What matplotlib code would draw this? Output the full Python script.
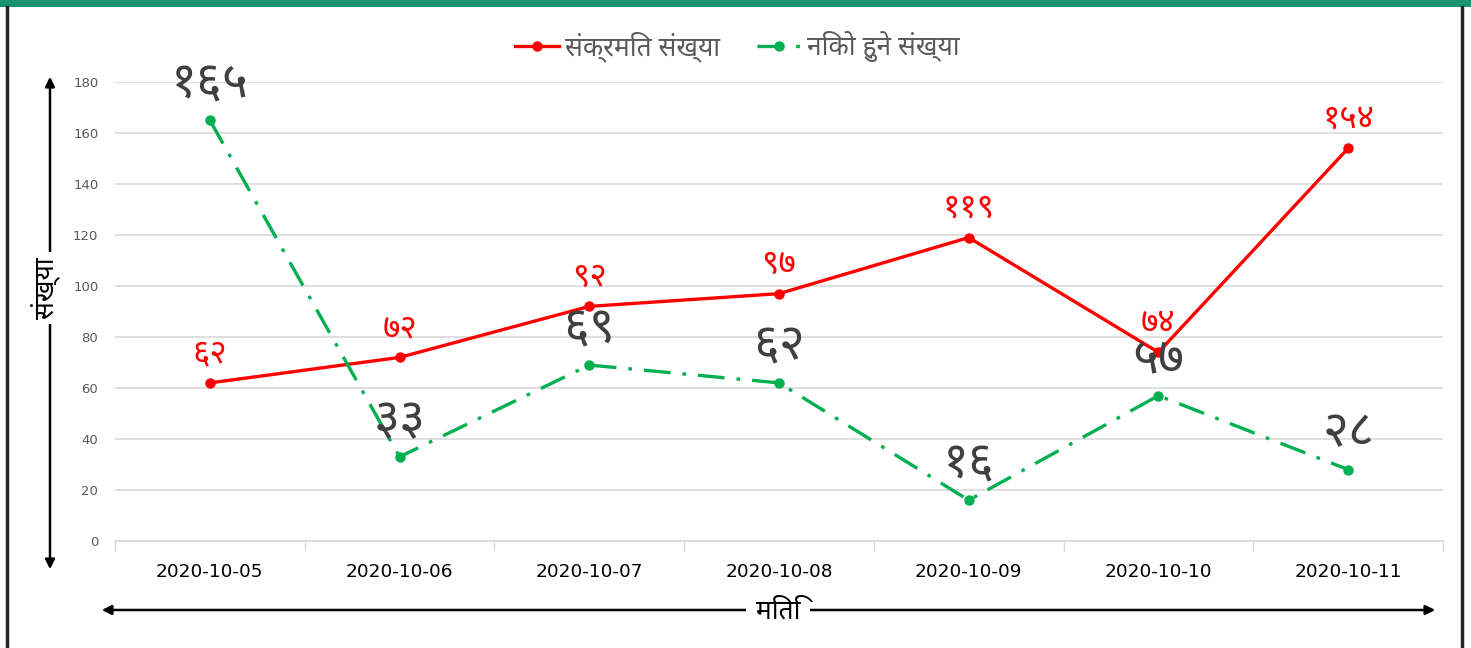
import matplotlib
matplotlib.use('Agg')
import matplotlib.pyplot as plt
from matplotlib import font_manager
from matplotlib.ft2font import FT2Font
from matplotlib.patches import FancyArrowPatch, Rectangle
from matplotlib.lines import Line2D

# Data
dates = ['2020-10-05', '2020-10-06', '2020-10-07', '2020-10-08',
         '2020-10-09', '2020-10-10', '2020-10-11']
infected = [62, 72, 92, 97, 119, 74, 154]
recovered = [165, 33, 69, 62, 16, 57, 28]
infected_labels = ['६२', '७२', '९२', '९७', '११९', '७४', '१५४']
recovered_labels = ['१६५', '३३', '६९', '६२', '१६', '५७', '२८']
yticks = [0, 20, 40, 60, 80, 100, 120, 140, 160, 180]

series_names = ['संक्रमित संख्या', 'निको हुने संख्या']
ylabel = 'संख्या'
xlabel = 'मिति'

RED = '#ff0000'
GREEN = '#00b050'
GRAY = '#404040'


# pick a font that has Devanagari glyphs, preferring Noto Sans Devanagari
def find_deva_font():
    names = {}
    for f in font_manager.fontManager.ttflist:
        if f.name in names:
            continue
        try:
            cmap = FT2Font(f.fname).get_charmap()
        except Exception:
            continue
        if 0x0915 in cmap and 0x0967 in cmap and 0x096B in cmap:
            names[f.name] = f.fname
    for pref in ['Noto Sans Devanagari', 'Mukta', 'Hind', 'Poppins', 'FreeSans']:
        if pref in names:
            return pref
    return next(iter(names), None)


deva = find_deva_font()
fam = [deva, 'DejaVu Sans'] if deva else ['DejaVu Sans']

W, H = 1471, 648
fig = plt.figure(figsize=(W / 100, H / 100), dpi=100)
fig.patch.set_facecolor('white')

# frame decorations
fig.add_artist(Rectangle((0, 1 - 7 / H), 1, 7 / H, transform=fig.transFigure,
                         color='#1a9370', lw=0))
fig.add_artist(Line2D([7 / W, 7 / W], [0, 1 - 7 / H], transform=fig.transFigure,
                      color='#262626', lw=2.5))
fig.add_artist(Line2D([1462 / W, 1462 / W], [0, 1 - 7 / H], transform=fig.transFigure,
                      color='#262626', lw=2.5))

ax = fig.add_axes([115 / W, 1 - 541 / H, (1443 - 115) / W, (541 - 82) / H])
x = list(range(len(dates)))

ax.plot(x, infected, color=RED, lw=2.4, marker='o', ms=6.5, zorder=3,
        label=series_names[0])
ax.plot(x, recovered, color=GREEN, lw=2.4, ls=(0, (8, 3.6, 1.1, 3.6)), marker='o',
        ms=6.5, zorder=3, label=series_names[1])

for xi, v, t in zip(x, infected, infected_labels):
    ax.annotate(t, (xi, v), xytext=(0, 9), textcoords='offset points',
                ha='center', va='bottom', color=RED, fontsize=24, family=fam, zorder=5)
for xi, v, t in zip(x, recovered, recovered_labels):
    ax.annotate(t, (xi, v), xytext=(0, 8), textcoords='offset points',
                ha='center', va='bottom', color=GRAY, fontsize=36, family=fam, zorder=6)

ax.set_xlim(-0.5, len(dates) - 0.5)
ax.set_ylim(0, 180)
ax.set_yticks(yticks)
ax.set_xticks(x)
ax.set_xticklabels(dates, fontsize=13.3, color='black')
ax.set_xticks([i - 0.5 for i in range(len(dates) + 1)], minor=True)
ax.tick_params(axis='x', which='major', length=0, pad=16)
ax.tick_params(axis='x', which='minor', length=7, color='#d9d9d9', width=1)
ax.tick_params(axis='y', length=0, labelsize=9.5, labelcolor='#595959', pad=12)
ax.grid(axis='y', color='#d9d9d9', lw=1.2)
ax.set_axisbelow(True)
for s in ['top', 'right', 'left']:
    ax.spines[s].set_visible(False)
ax.spines['bottom'].set_color('#d9d9d9')
ax.spines['bottom'].set_linewidth(1.2)

leg = ax.legend(loc='center', bbox_to_anchor=((737 - 115) / (1443 - 115),
                                              (H - 47 - (H - 541)) / (541 - 82)),
                bbox_transform=ax.transAxes, ncol=2, frameon=False, handlelength=1.7,
                columnspacing=1.4, handletextpad=0.2, prop={'family': fam, 'size': 19})
for t in leg.get_texts():
    t.set_color('#595959')

# axis arrows and titles
fig.add_artist(FancyArrowPatch((50 / W, 1 - 572 / H), (50 / W, 1 - 74 / H),
                               transform=fig.transFigure, arrowstyle='<|-|>',
                               mutation_scale=14, color='black', lw=1.8))
fig.text(45 / W, 1 - 288 / H, ylabel, rotation=90, ha='center', va='center',
         fontsize=19, family=fam, color='black',
         bbox=dict(facecolor='white', edgecolor='none', pad=4))
fig.add_artist(FancyArrowPatch((99 / W, 1 - 610 / H), (1438 / W, 1 - 610 / H),
                               transform=fig.transFigure, arrowstyle='<|-|>',
                               mutation_scale=14, color='black', lw=1.8))
fig.text(778 / W, 1 - 612 / H, xlabel, ha='center', va='center',
         fontsize=19, family=fam, color='black',
         bbox=dict(facecolor='white', edgecolor='none', pad=7))

fig.savefig('out.png', dpi=100)
